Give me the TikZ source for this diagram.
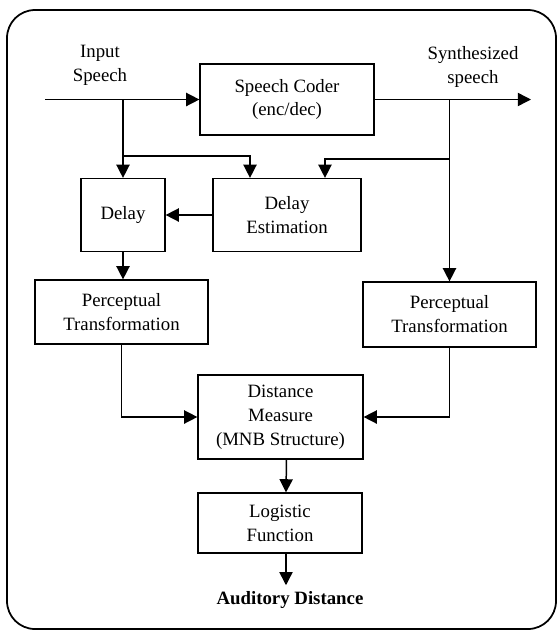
\documentclass[tikz,border=0pt]{standalone}
\usepackage{fontspec}
\setmainfont{Liberation Serif}
\usetikzlibrary{arrows.meta}

\begin{document}
\begin{tikzpicture}[x=0.02cm,y=-0.02cm,
  font=\fontsize{10.7}{13.6}\selectfont,
  block/.style={draw,line width=0.7pt,align=center,inner sep=0pt},
  flow/.style={line width=0.85pt,-{Triangle[length=7.5pt,width=7.5pt]}}]
  \useasboundingbox (0,0) rectangle (558,630);

  % Outer frame
  \draw[line width=1pt,rounded corners=0.56cm] (7,10) rectangle (556,629);

  % Blocks
  \node[block,minimum width=3.48cm,minimum height=1.42cm] (coder) at (287,99.5) {Speech Coder\\(enc/dec)};
  \node[block,minimum width=1.68cm,minimum height=1.46cm] (delay) at (123,215) {Delay};
  \node[block,minimum width=2.96cm,minimum height=1.46cm] (est) at (287,215) {Delay\\Estimation};
  \node[block,minimum width=3.46cm,minimum height=1.28cm] (lpt) at (121.5,312) {Perceptual\\Transformation};
  \node[block,minimum width=3.46cm,minimum height=1.30cm] (rpt) at (449.5,314.5) {Perceptual\\Transformation};
  \node[block,minimum width=3.30cm,minimum height=1.68cm] (dm) at (280.5,417) {Distance\\Measure\\(MNB Structure)};
  \node[block,minimum width=3.28cm,minimum height=1.20cm] (lf) at (280,523) {Logistic\\Function};

  % Labels
  \node[align=center] (inlabel) at (100,65) {Input\\Speech};
  \node[align=center] (outlabel) at (473,67) {Synthesized\\speech};
  \node (dist) at (290,600) {\bfseries Auditory Distance};

  % Speech path
  \coordinate (in) at (45,99.5);
  \coordinate (out) at (531,99.5);
  \draw[flow] (in) -- (coder.west);
  \draw[flow] (coder.east) -- (out);

  % Taps to delay and estimation
  \draw[flow] (in -| delay.north) -- (delay.north);
  \draw[flow] (delay.north |- 0,156) -| ([xshift=-0.74cm]est.north);
  \draw[flow] (out -| rpt.north) -- (rpt.north);
  \draw[flow] (rpt.north |- 0,159) -| ([xshift=0.76cm]est.north);
  \draw[flow] (est.west) -- (delay.east);
  \draw[flow] (delay.south) -- (delay.south |- lpt.north);

  % Into the distance measure
  \draw[flow] (lpt.south) |- (dm.west);
  \draw[flow] (rpt.south) |- (dm.east);
  \draw[flow] ([xshift=0.12cm]dm.south) -- ([xshift=0.12cm]lf.north);
  \draw[flow] ([xshift=0.12cm]lf.south) -- ([xshift=0.12cm]lf.south |- dist.north);
\end{tikzpicture}
\end{document}
